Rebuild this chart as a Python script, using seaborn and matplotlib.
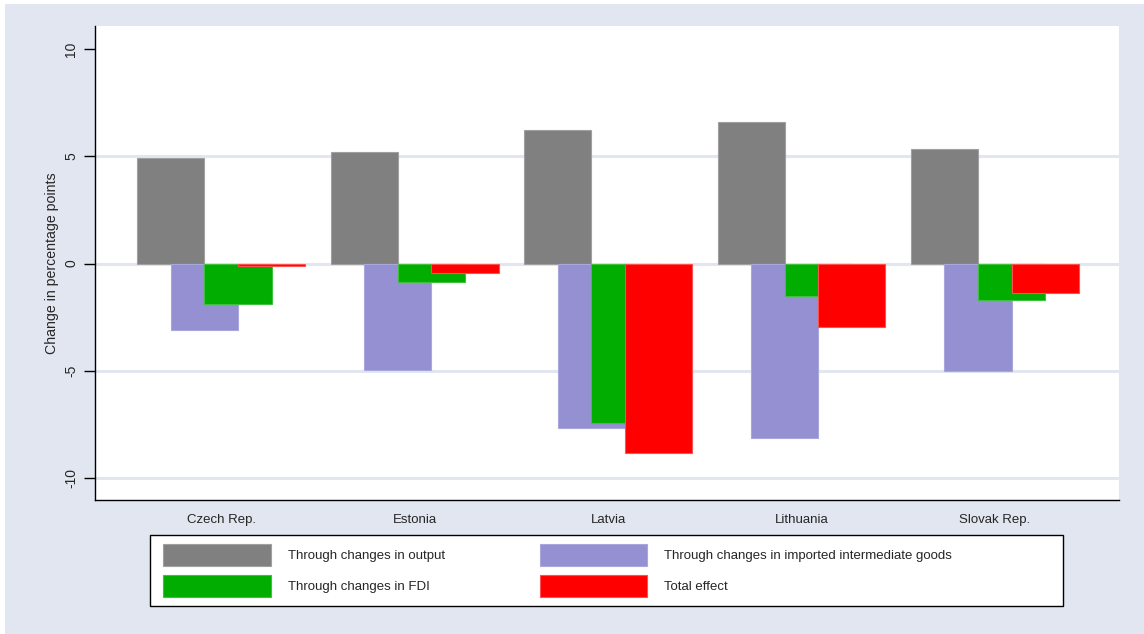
import numpy as np
import pandas as pd
import matplotlib
matplotlib.use("Agg")
import matplotlib.pyplot as plt
from matplotlib.patches import Rectangle
import seaborn as sns

countries = ["Czech Rep.", "Estonia", "Latvia", "Lithuania", "Slovak Rep."]
output_eff = [4.9, 5.2, 6.2, 6.6, 5.35]
imported_eff = [-3.1, -4.95, -7.65, -8.15, -5.0]
fdi_eff = [-1.9, -0.85, -7.45, -1.5, -1.7]
total_eff = [-0.12, -0.45, -8.85, -2.95, -1.35]

series = ["Through changes in output",
          "Through changes in imported intermediate goods",
          "Through changes in FDI",
          "Total effect"]
colors = ["#808080", "#9490d1", "#00ad00", "#ff0000"]
edges = ["#a0a0a0", "#aaa7dd", "#40c040", "#ff5050"]

sns.set_theme(style="white")
plt.rcParams["font.family"] = ["Liberation Sans", "DejaVu Sans"]

bg = "#e1e6f0"
fig = plt.figure(figsize=(11.44, 6.34), dpi=100)
fig.patch.set_facecolor("white")
fig.patches.append(Rectangle((5 / 1144, 0), 1, (634 - 4) / 634, transform=fig.transFigure,
                             facecolor=bg, edgecolor="none", zorder=-10))
ax = fig.add_axes([95 / 1144, 134 / 634, 1024 / 1144, 474 / 634])
ax.set_facecolor("white")

step = 0.1736
pos = np.arange(len(countries))
for i, (vals, c, ec) in enumerate(zip([output_eff, imported_eff, fdi_eff, total_eff], colors, edges)):
    df = pd.DataFrame({"x": pos + (i - 1.5) * step, "y": vals})
    sns.barplot(data=df, x="x", y="y", native_scale=True, width=2 * step,
                color=c, saturation=1, errorbar=None, edgecolor=ec, linewidth=0.8,
                ax=ax, zorder=2 + i, label=series[i])

handles, labels = ax.get_legend_handles_labels()
if ax.get_legend() is not None:
    ax.get_legend().remove()

for yv in [5, 0, -5, -10]:
    ax.axhline(yv, color=bg, lw=2.2, zorder=1)

ax.set_xlim(-0.653, 4.642)
ax.set_ylim(-11.02, 11.07)
ax.set_xticks(pos)
ax.set_xticklabels(countries, fontsize=9.5)
ax.set_yticks([-10, -5, 0, 5, 10])
ax.set_yticklabels(["-10", "-5", "0", "5", "10"], rotation=90, va="center", fontsize=10)
ax.tick_params(axis="y", length=8, width=1, color="black", pad=4, left=True)
ax.tick_params(axis="x", length=0, pad=10)
ax.set_xlabel("")
ax.set_ylabel("Change in percentage points", fontsize=10.2, labelpad=4)
for s in ["top", "right"]:
    ax.spines[s].set_visible(False)
for s in ["left", "bottom"]:
    ax.spines[s].set_color("black")
    ax.spines[s].set_linewidth(1)

# legend box
fig.patches.append(Rectangle((150 / 1144, (634 - 606) / 634), 913 / 1144, 71 / 634,
                             transform=fig.transFigure, facecolor="white",
                             edgecolor="black", lw=1, zorder=5))
order = [0, 2, 1, 3]
leg = fig.legend([handles[k] for k in order], [labels[k] for k in order],
                 ncol=2, frameon=False, fontsize=9.5,
                 loc="upper left", bbox_to_anchor=(163 / 1144, (634 - 544) / 634),
                 borderaxespad=0, borderpad=0, handlelength=8.15, handleheight=2.19,
                 handletextpad=1.3, labelspacing=0.65, columnspacing=7.2)
leg.set_zorder(6)

fig.savefig("out.png", dpi=100)
